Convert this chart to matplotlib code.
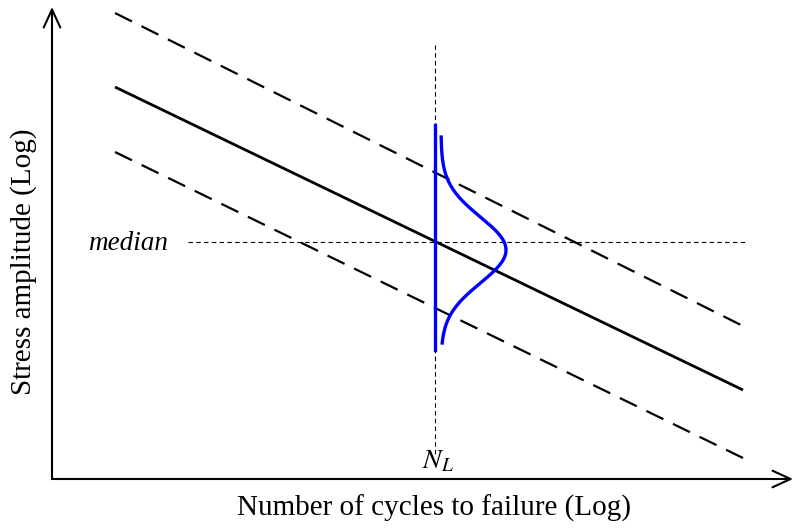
import numpy as np
import matplotlib
matplotlib.use("Agg")
import matplotlib.pyplot as plt

plt.rcParams['font.family'] = ['Liberation Serif', 'DejaVu Serif']

# Schematic coordinates (picture units, y grows downward)
median_line = {"x": [115, 743], "y": [87, 390]}
upper_band = {"x": [115, 743], "y": [13, 326]}
lower_band = {"x": [115, 743], "y": [152, 458]}
N_L = 435
median_level = 242
vline_span = [45, 455]
hline_span = [188, 745]
blue_span = [125, 350]
# Gaussian scatter at N_L
pdf_mean, pdf_sigma, pdf_base, pdf_peak = 250, 33, 441, 65
pdf_range = [137, 343]

x_axis = {"origin": (52, 479), "tip": (793, 479)}
y_axis = {"origin": (52, 479), "tip": (52, 7)}

fig = plt.figure(figsize=(7.95, 5.28), dpi=100)
ax = fig.add_axes([0, 0, 1, 1])
ax.set_xlim(0, 795)
ax.set_ylim(528, 0)
ax.axis('off')

ax.plot(median_line["x"], median_line["y"], color='black', lw=2.0, solid_capstyle='butt')
for band in (upper_band, lower_band):
    ax.plot(band["x"], band["y"], color='black', lw=1.6, dashes=(8.5, 4.8))

ax.plot([N_L, N_L], vline_span, color='black', lw=0.8, dashes=(4, 3))
ax.plot(hline_span, [median_level, median_level], color='black', lw=0.8, dashes=(4, 3))

ax.plot([N_L, N_L], blue_span, color='#0000ff', lw=2.4)
yy = np.linspace(pdf_range[0], pdf_range[1], 300)
xx = pdf_base + pdf_peak * np.exp(-(yy - pdf_mean) ** 2 / (2 * pdf_sigma ** 2))
ax.plot(xx, yy, color='#0000ff', lw=2.4)

arrow = dict(arrowstyle='->,head_length=0.65,head_width=0.3', lw=1.5,
             color='black', mutation_scale=20, shrinkA=0, shrinkB=0)
ax.annotate('', xy=x_axis["tip"], xytext=x_axis["origin"], arrowprops=arrow)
ax.annotate('', xy=y_axis["tip"], xytext=y_axis["origin"], arrowprops=arrow)

ax.text(434, 508, 'Number of cycles to failure (Log)', fontsize=21, ha='center', va='center')
ax.text(24, 262, 'Stress amplitude (Log)', fontsize=21, ha='center', va='center', rotation=90)
ax.text(128, 243, 'median', fontsize=19.5, style='italic', ha='center', va='center')
ax.text(438, 462, r'$N_L$', fontsize=20, ha='center', va='center',
        math_fontfamily='stix')

fig.savefig('out.png', dpi=100)
